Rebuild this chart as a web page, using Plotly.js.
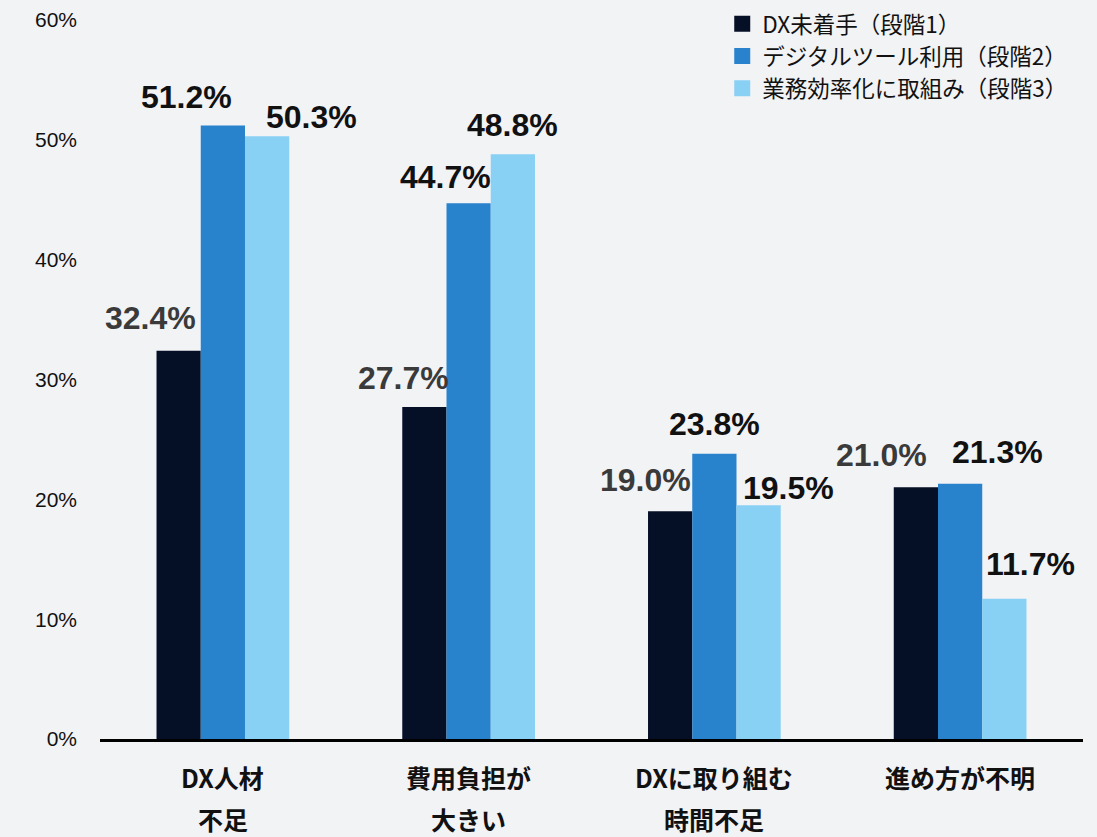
<!DOCTYPE html>
<html><head><meta charset="utf-8">
<script src="https://cdn.plot.ly/plotly-3.0.1.min.js"></script>
<style>html,body{margin:0;padding:0;background:#f2f3f5;}#chart{width:1097px;height:837px;}</style>
</head><body><div id="chart"></div>
<script>
// ---- data ----
const categories = ["DX人材<br>不足", "費用負担が<br>大きい", "DXに取り組む<br>時間不足", "進め方が不明"];
const seriesNames = ["DX未着手（段階1）", "デジタルツール利用（段階2）", "業務効率化に取組み（段階3）"];
const stage1 = [32.4, 27.7, 19.0, 21.0];
const stage2 = [51.2, 44.7, 23.8, 21.3];
const stage3 = [50.3, 48.8, 19.5, 11.7];
const yTickVals = [0, 10, 20, 30, 40, 50, 60];
const yTickText = ["0%", "10%", "20%", "30%", "40%", "50%", "60%"];

// ---- styles / label placement (pixels, relative to group centre & bar top) ----
const colors = ["#050f26", "#2882cc", "#89d0f5"];
const labelColors = ["#3a3a3a", "#111111", "#111111"];
const labelDx = [[-72, -65, -69, -79], [-36, -23, 0, 37], [89, 44, 74, 70]];
const labelDy = [[33, 29, 31, 32], [28, 26, 30, 32], [19, 29, 17, 35]];

const values = [stage1, stage2, stage3];
const traces = values.map((v, s) => ({
  type: "bar", x: categories, y: v, name: seriesNames[s], showlegend: false,
  marker: {color: colors[s], line: {width: 0}},
  hoverinfo: "skip"
}));
// legend swatches (square markers, no data points drawn)
seriesNames.forEach((n, s) => traces.push({
  type: "scatter", mode: "markers", x: [null], y: [null], name: n,
  marker: {symbol: "square", size: 17, color: colors[s]}, hoverinfo: "skip"
}));

const annotations = [];
values.forEach((v, s) => v.forEach((val, i) => {
  annotations.push({
    x: categories[i], y: val, xref: "x", yref: "y",
    text: val.toFixed(1) + "%", showarrow: false,
    xanchor: "center", yanchor: "middle",
    xshift: labelDx[s][i], yshift: labelDy[s][i],
    font: {family: "Liberation Sans, Arial, sans-serif", size: 32, color: labelColors[s], weight: "bold"}
  });
}));
categories.forEach(c => {
  c.split("<br>").forEach((line, k) => {
    annotations.push({
      x: c, y: 0, xref: "x", yref: "paper", text: "<b>" + line + "</b>", showarrow: false,
      xanchor: "center", yanchor: "middle", yshift: -38 - 42 * k,
      font: {family: "Noto Sans CJK JP, sans-serif", size: 25, color: "#111"}
    });
  });
});

const layout = {
  width: 1097, height: 837,
  paper_bgcolor: "#f2f3f5", plot_bgcolor: "#f2f3f5",
  margin: {l: 100, r: 14, t: 20, b: 98, autoexpand: false},
  barmode: "group", bargap: 0.46, bargroupgap: 0,
  showlegend: true,
  legend: {x: 0.633, y: 1.024, xanchor: "left", yanchor: "top", bgcolor: "rgba(0,0,0,0)",
    font: {family: "Noto Sans CJK JP, sans-serif", size: 22.5, color: "#111"}, tracegroupgap: 0, itemwidth: 30},
  xaxis: {showticklabels: false, ticks: "", showgrid: false, zeroline: false,
    showline: true, linecolor: "#000", linewidth: 2.5, fixedrange: true},
  yaxis: {range: [0, 60], tickvals: yTickVals, ticktext: yTickText, showgrid: false, zeroline: false,
    showline: false, ticks: "", ticklabelstandoff: 22,
    tickfont: {family: "Liberation Sans, Arial, sans-serif", size: 21, color: "#111"}},
  annotations: annotations
};
Plotly.newPlot("chart", traces, layout, {displayModeBar: false, staticPlot: true});
</script></body></html>
